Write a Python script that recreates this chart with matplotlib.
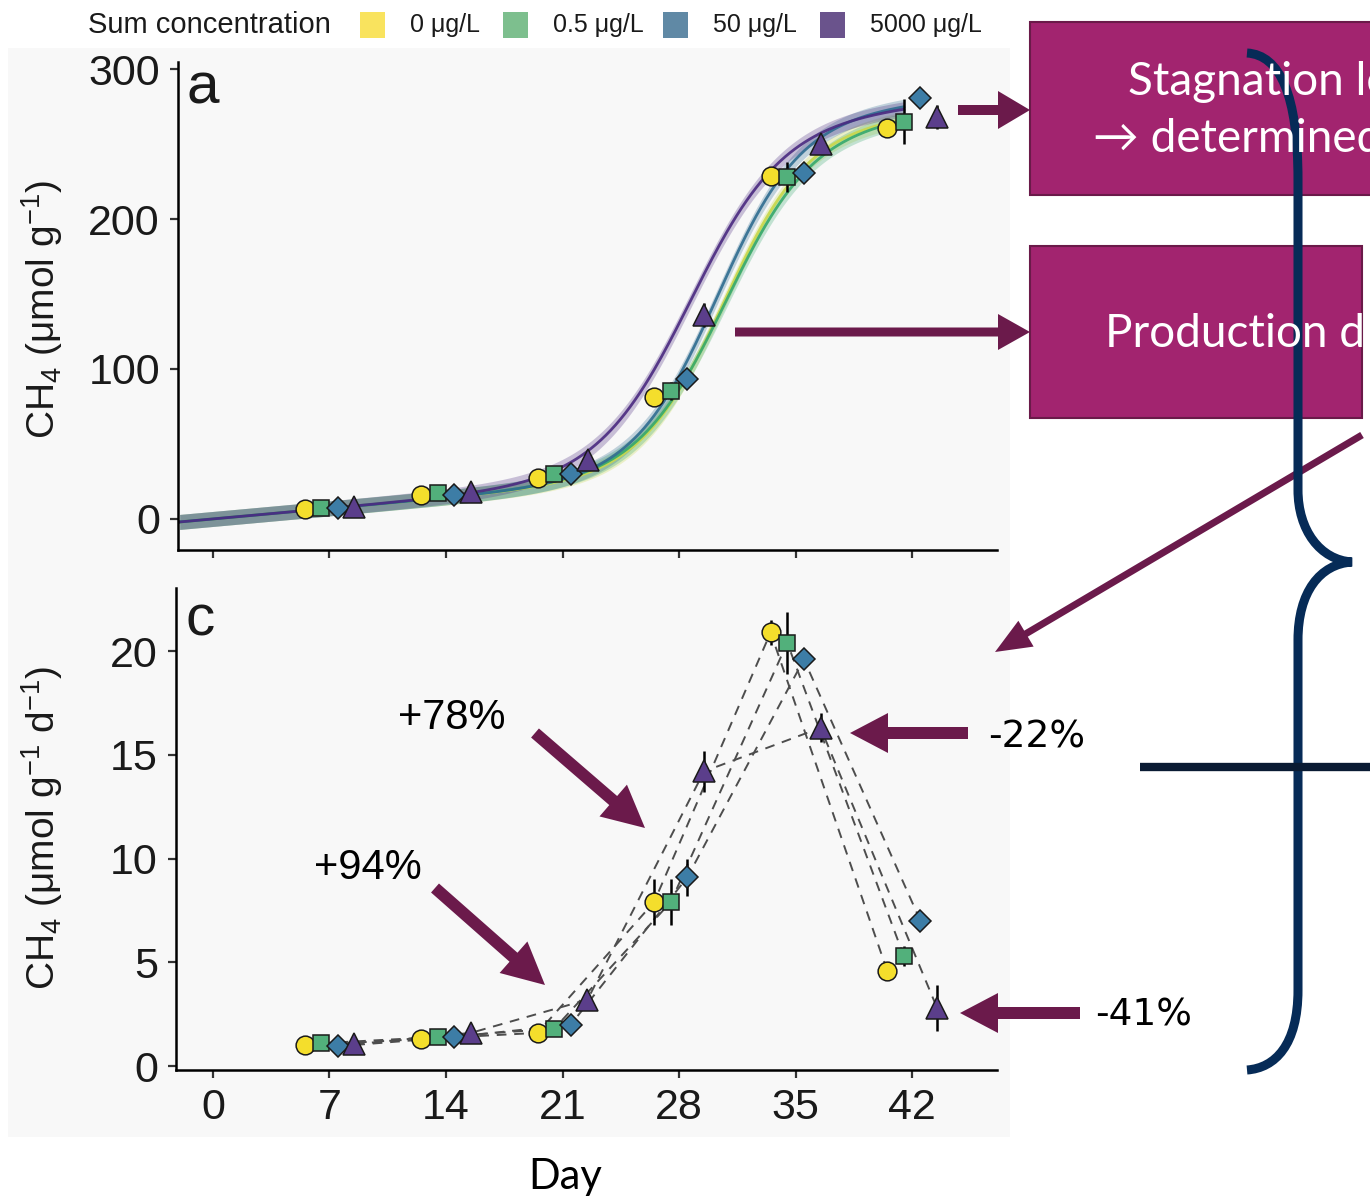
import numpy as np
import matplotlib.pyplot as plt
from matplotlib.patches import Rectangle, FancyArrow, PathPatch
from matplotlib.path import Path

plt.rcParams['font.family'] = ['Liberation Sans', 'DejaVu Sans']
plt.rcParams['mathtext.fontset'] = 'custom'
plt.rcParams['mathtext.rm'] = 'Liberation Sans'
plt.rcParams['mathtext.it'] = 'Liberation Sans:italic'

# sampling days and treatments
days = [7, 14, 21, 28, 35, 42]
day_ticks = [0, 7, 14, 21, 28, 35, 42]
conc_labels = ['0 μg/L', '0.5 μg/L', '50 μg/L', '5000 μg/L']

# cumulative CH4 (umol/g), mean and sd
cum_0 = [6.7, 16, 27, 81, 229, 261]
cum_05 = [7, 17, 30, 85, 228, 265]
cum_50 = [7, 16, 30, 93, 231, 281]
cum_5000 = [8, 18, 39, 136, 250, 268]
cum_0_sd = [1, 1, 1, 6, 4, 5]
cum_05_sd = [1, 1, 1, 6, 10, 15]
cum_50_sd = [1, 1, 1, 3, 3, 3]
cum_5000_sd = [1, 1, 2, 8, 4, 8]

# CH4 production rate (umol/g/d), mean and sd
rate_0 = [1.0, 1.3, 1.6, 7.9, 20.9, 4.6]
rate_05 = [1.1, 1.4, 1.8, 7.9, 20.4, 5.3]
rate_50 = [0.95, 1.4, 2.0, 9.1, 19.6, 7.0]
rate_5000 = [1.05, 1.6, 3.2, 14.2, 16.3, 2.8]
rate_0_sd = [0.1, 0.1, 0.1, 1.1, 0.6, 0.2]
rate_05_sd = [0.1, 0.1, 0.1, 1.1, 1.5, 0.5]
rate_50_sd = [0.1, 0.1, 0.1, 0.9, 0.4, 0.2]
rate_5000_sd = [0.1, 0.1, 0.1, 1.0, 0.7, 1.1]

# fitted growth model: linear background + logistic
fit_slope = [1.0, 1.0, 1.0, 1.0]
fit_k = [228, 228, 236, 234]
fit_r = [0.40, 0.38, 0.40, 0.36]
fit_t0 = [30.7, 30.8, 30.3, 28.7]
fit_band = 5

cum_means = [cum_0, cum_05, cum_50, cum_5000]
cum_sds = [cum_0_sd, cum_05_sd, cum_50_sd, cum_5000_sd]
rate_means = [rate_0, rate_05, rate_50, rate_5000]
rate_sds = [rate_0_sd, rate_05_sd, rate_50_sd, rate_5000_sd]

fill_colors = ['#F4DE2C', '#52B07B', '#3D7DA6', '#5B3E8B']
key_colors = ['#F9E35E', '#7DBF8E', '#6089A5', '#6A538C']
line_colors = ['#C9D84A', '#35A86C', '#2F6C90', '#4A2A80']
markers = ['o', 's', 'D', '^']
msizes = [13.5, 12, 11.5, 16]
dodge = [-1.5, -0.5, 0.5, 1.5]

W, H = 1370, 1204
fig = plt.figure(figsize=(W / 100, H / 100), dpi=100)


def px_axes(left, top, right, bottom):
    return fig.add_axes([left / W, 1 - bottom / H, (right - left) / W, (bottom - top) / H])


def px_text(x, y, s, **kw):
    return fig.text(x / W, 1 - y / H, s, **kw)


def growth_curve(t, i):
    return fit_slope[i] * t + fit_k[i] / (1 + np.exp(-fit_r[i] * (t - fit_t0[i])))


# light grey plot background
bg = px_axes(0, 0, W, H)
bg.set_xlim(0, W)
bg.set_ylim(H, 0)
bg.axis('off')
bg.set_zorder(-5)
bg.add_patch(Rectangle((8, 48), 1002, 1089, color='#F8F8F8', lw=0))

ax_a = px_axes(178, 62, 997, 550)
ax_c = px_axes(176, 588, 997, 1070)

for ax in (ax_a, ax_c):
    ax.patch.set_alpha(0)
    for side in ('top', 'right'):
        ax.spines[side].set_visible(False)
    for side in ('left', 'bottom'):
        ax.spines[side].set_linewidth(1.8)
    ax.set_xticks(day_ticks)
    ax.tick_params(length=6, width=1.6, color='#333333', labelsize=31,
                   labelcolor='#1a1a1a', pad=7)

ax_a.set_xlim(-2.1, 47.1)
ax_a.set_ylim(-20.7, 304.7)
ax_a.set_yticks([0, 100, 200, 300])
ax_a.tick_params(axis='x', labelbottom=False)

ax_c.set_xlim(-2.22, 47.1)
ax_c.set_ylim(-0.19, 23.04)
ax_c.set_yticks([0, 5, 10, 15, 20])

# panel a: fitted curves with bands, then means
t = np.linspace(-2, 41.5, 300)
for i in range(4):
    fit = growth_curve(t, i)
    ax_a.fill_between(t, fit - fit_band, fit + fit_band, color=line_colors[i],
                      alpha=0.28, lw=0, zorder=1)
    ax_a.plot(t, fit, color=line_colors[i], lw=2, alpha=0.9, zorder=2)

for ax, means, sds in ((ax_a, cum_means, cum_sds), (ax_c, rate_means, rate_sds)):
    for i in range(4):
        x = np.array(days) + dodge[i]
        if ax is ax_c:
            ax.plot(x, means[i], ls=(0, (5, 4)), color='#4d4d4d', lw=1.4, zorder=2)
        ax.errorbar(x, means[i], yerr=sds[i], fmt='none', ecolor='black',
                    elinewidth=1.8, capsize=0, zorder=3)
        ax.plot(x, means[i], ls='none', marker=markers[i], ms=msizes[i],
                mfc=fill_colors[i], mec='#1a1a1a', mew=1.1, zorder=4)

# panel tags and axis titles
px_text(203, 88, 'a', size=42, ha='center', va='center', color='#1a1a1a')
px_text(200, 620, 'c', size=42, ha='center', va='center', color='#1a1a1a')
px_text(42, 310, 'CH$_4$ (μmol g$^{-1}$)', size=28, rotation=90,
        ha='center', va='center', color='#1a1a1a')
px_text(42, 828, 'CH$_4$ (μmol g$^{-1}$ d$^{-1}$)', size=28, rotation=90,
        ha='center', va='center', color='#1a1a1a')
px_text(565, 1177, 'Day', size=30, family=['Lato', 'DejaVu Sans'],
        ha='center', va='center')

# legend
px_text(88, 25, 'Sum concentration', size=21, ha='left', va='center', color='#1a1a1a')
key_x = [360, 503, 663, 820]
for i in range(4):
    bg.add_patch(Rectangle((key_x[i], 12), 25, 26, color=key_colors[i], lw=0))
    px_text(key_x[i] + 50, 25, conc_labels[i], size=18, ha='left', va='center',
            color='#1a1a1a')

# percentage changes of the highest treatment
px_text(452, 718, '+78%', size=30, ha='center', va='center')
px_text(368, 868, '+94%', size=30, ha='center', va='center')
px_text(988, 737, '-22%', size=27, family=['DejaVu Sans'], ha='left', va='center')
px_text(1095, 1015, '-41%', size=27, family=['DejaVu Sans'], ha='left', va='center')

# overlay with boxes, arrows and brace
ov = px_axes(0, 0, W, H)
ov.set_xlim(0, W)
ov.set_ylim(H, 0)
ov.axis('off')
ov.set_zorder(5)
ov.patch.set_alpha(0)

box_fill = '#A2246F'
box_edge = '#6A1A49'
arrow_col = '#6B1A4B'
navy = '#062B57'
box_font = ['Lato', 'DejaVu Sans']

box1 = Rectangle((1030, 22), 400, 173, fc=box_fill, ec=box_edge, lw=1.5)
box2 = Rectangle((1030, 246), 332, 172, fc=box_fill, ec=box_edge, lw=1.5)
ov.add_patch(box1)
ov.add_patch(box2)
ov.text(1128, 82, 'Stagnation level', color='white', size=33, family=box_font,
        ha='left', va='center')
ov.text(1093, 139, '→ determined', color='white', size=33, family=box_font,
        ha='left', va='center')
t2 = ov.text(1105, 334, 'Production dynamics', color='white', size=33,
             family=box_font, ha='left', va='center')
t2.set_clip_path(box2)

arrows = [
    (958, 110, 1030, 110, 10, 38, 32),
    (735, 332, 1030, 332, 9, 36, 32),
    (1362, 435, 995, 652, 7, 30, 36),
    (535, 733, 645, 828, 12, 42, 42),
    (435, 888, 545, 985, 12, 42, 42),
    (968, 733, 850, 733, 12, 40, 38),
    (1080, 1013, 960, 1013, 12, 40, 38),
]
for x0, y0, x1, y1, w, hw, hl in arrows:
    ov.add_patch(FancyArrow(x0, y0, x1 - x0, y1 - y0, width=w, head_width=hw,
                            head_length=hl, length_includes_head=True,
                            color=arrow_col, lw=0))

ov.plot([1140, 1372], [767, 767], color='#0A1B33', lw=6, solid_capstyle='butt')

brace_verts = [
    (1247, 53), (1280, 55), (1298, 95), (1298, 180),
    (1298, 490),
    (1298, 530), (1320, 560), (1352, 562),
    (1320, 564), (1298, 592), (1298, 640),
    (1298, 990),
    (1298, 1045), (1275, 1068), (1247, 1070),
]
brace_codes = [Path.MOVETO, Path.CURVE4, Path.CURVE4, Path.CURVE4,
               Path.LINETO,
               Path.CURVE4, Path.CURVE4, Path.CURVE4,
               Path.CURVE4, Path.CURVE4, Path.CURVE4,
               Path.LINETO,
               Path.CURVE4, Path.CURVE4, Path.CURVE4]
ov.add_patch(PathPatch(Path(brace_verts, brace_codes), fc='none', ec=navy,
                       lw=6.5, capstyle='butt', joinstyle='miter'))

fig.savefig('out.png', dpi=100, facecolor='white')
